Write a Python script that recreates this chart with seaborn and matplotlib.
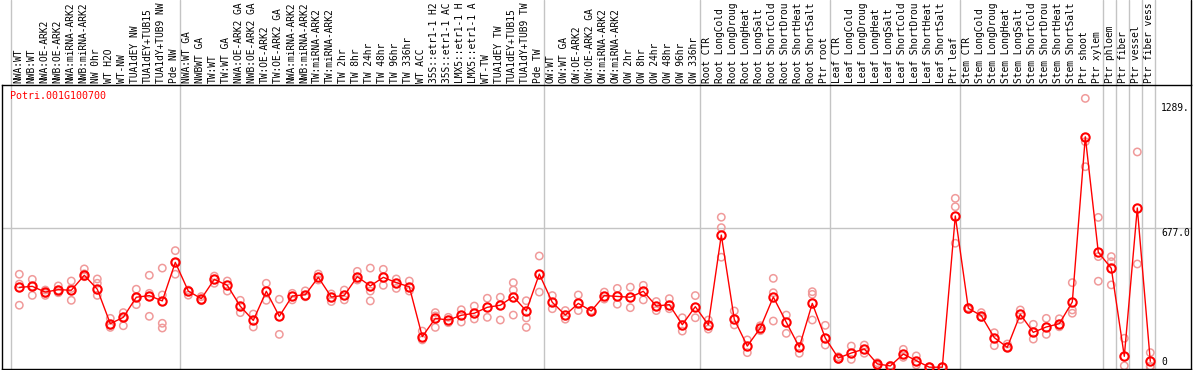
import matplotlib
matplotlib.use('Agg')
import matplotlib.pyplot as plt
import seaborn as sns
import pandas as pd
from matplotlib.transforms import blended_transform_factory

gene = "Potri.001G100700"

categories = [
    "NWA:WT", "NWB:WT", "NWA:OE-ARK2", "NWB:OE-ARK2", "NWA:miRNA-ARK2", "NWB:miRNA-ARK2",
    "NW 0hr", "WT H2O", "WT-NW", "TUA1dEY NW", "TUA1dEY+TUB15", "TUA1dY+TUB9 NW", "Pde NW",
    "NWA:WT GA", "NWBWT GA", "TW:WT", "TW:WT GA", "NWA:OE-ARK2 GA", "NWB:OE-ARK2 GA",
    "TW:OE-ARK2", "TW:OE-ARK2 GA", "NWA:miRNA-ARK2", "NWB:miRNA-ARK2", "TW:miRNA-ARK2",
    "TW:miRNA-ARK2", "TW 2hr", "TW 8hr", "TW 24hr", "TW 48hr", "TW 96hr", "TW 336hr",
    "WT ACC", "35S::etr1-1 H2", "35S::etr1-1 AC", "LMX5::etr1-1 H", "LMX5::etr1-1 A",
    "WT-TW", "TUA1dEY TW", "TUA1dEY+TUB15", "TUA1dY+TUB9 TW", "Pde TW",
    "OW:WT", "OW:WT GA", "OW:OE-ARK2", "OW:OE-ARK2 GA", "OW:miRNA-ARK2", "OW:miRNA-ARK2",
    "OW 2hr", "OW 8hr", "OW 24hr", "OW 48hr", "OW 96hr", "OW 336hr",
    "Root CTR", "Root LongCold", "Root LongDroug", "Root LongHeat", "Root LongSalt",
    "Root ShortCold", "Root ShortDrou", "Root ShortHeat", "Root ShortSalt", "Ptr root",
    "Leaf CTR", "Leaf LongCold", "Leaf LongDroug", "Leaf LongHeat", "Leaf LongSalt",
    "Leaf ShortCold", "Leaf ShortDrou", "Leaf ShortHeat", "Leaf ShortSalt", "Ptr leaf",
    "Stem CTR", "Stem LongCold", "Stem LongDroug", "Stem LongHeat", "Stem LongSalt",
    "Stem ShortCold", "Stem ShortDrou", "Stem ShortHeat", "Stem ShortSalt", "Ptr shoot",
    "Ptr xylem", "Ptr phloem", "Ptr fiber", "Ptr vessel", "Ptr fiber vess",
]

means = [
    389, 394, 366, 378, 375, 448, 380, 212, 243, 341, 349, 323, 511,
    371, 334, 428, 399, 297, 228, 370, 248, 347, 353, 438, 342, 350, 441, 396, 438,
    412, 392, 149, 238, 230, 253, 263, 292, 302, 344, 274, 454,
    316, 254, 311, 274, 349, 345, 341, 370, 298, 305, 207, 295,
    207, 644, 233, 103, 191, 342, 219, 98, 311, 142,
    45, 69, 89, 16, 6, 64, 32, 0, 0, 737,
    287, 251, 144, 97, 258, 170, 196, 212, 318, 1123, 560,
    482, 53, 776, 29,
]

replicates = [
    [453, 405, 302], [428, 394, 350], [376, 360, 350], [396, 375, 363], [420, 384, 326],
    [479, 441, 455], [430, 409, 350], [238, 194, 205], [266, 243, 202], [380, 305, 340],
    [448, 360, 248], [483, 352, 214, 191], [568, 511, 453],
    [376, 351], [344, 324], [444, 409], [420, 371], [326, 266], [259, 196], [409, 326],
    [331, 160], [360, 328], [372, 343], [454, 425], [357, 320], [376, 328], [467, 425],
    [483, 371, 323], [477, 399], [430, 384], [420, 371], [176, 133], [266, 194, 250],
    [243, 217], [280, 220], [298, 235], [336, 243], [341, 230], [412, 376, 254],
    [324, 240, 194], [542, 366],
    [349, 285], [276, 234], [352, 276], [276, 270], [366, 332], [384, 307], [390, 290],
    [399, 328], [320, 276], [334, 285], [241, 176], [349, 241],
    [230, 186], [731, 680, 536], [274, 206], [133, 71], [202, 178], [433, 363, 225],
    [254, 165], [133, 68], [368, 355, 230], [204, 108],
    [51, 38], [103, 38], [108, 68], [22, 9], [9, 3], [87, 48], [55, 11], [2, 0], [2, 0],
    [823, 782, 604],
    [290, 282], [266, 243], [168, 105], [113, 97], [279, 233], [209, 137], [238, 160],
    [236, 197], [412, 279, 263], [1310, 1099, 977], [730, 539, 419],
    [539, 514, 401], [141, 7], [1049, 503], [71, 5, 2],
]

group_ends = [0, 13, 41, 53, 63, 73, 84, 85, 86, 87, 88]
tick_values = [0, 677.0, 1289.0]
tick_labels = ["0", "677.0", "1289."]

# ---------------------------------------------------------------
sns.set_style('white')
plt.rcParams['font.family'] = ['DejaVu Sans Mono']

W, H = 1194, 370
fig = plt.figure(figsize=(W / 100, H / 100), dpi=100)
L, R, T, B = 2, 1191, 85, 369
ax = fig.add_axes([L / W, 1 - B / H, (R - L) / W, (B - T) / H])

x0, dx = 19.3, 13.0
ax.set_xlim((L - x0) / dx, (R - x0) / dx)
y0, dy = 367.2, 0.2052
ax.set_ylim((y0 - B) / dy, (y0 - T) / dy)

mean_df = pd.DataFrame({"pos": range(len(categories)), "value": means, "cat": categories})
rows = []
for i, reps in enumerate(replicates):
    for v in reps:
        rows.append({"pos": i, "value": v})
rep_df = pd.DataFrame(rows)

grid_c = '#C4C4C4'
ax.axhline(677.0, color=grid_c, lw=1, zorder=0)
top_ext = 1 + T / (B - T)
bt = blended_transform_factory(ax.transData, ax.transAxes)
for k in group_ends:
    ax.plot([k - 0.66, k - 0.66], [0, top_ext], color=grid_c, lw=1,
            transform=bt, clip_on=False, zorder=0)
ax.plot([1, 1], [1, top_ext], color='black', lw=1, transform=ax.transAxes, clip_on=False)

sns.scatterplot(data=rep_df, x="pos", y="value", marker='o', s=28,
                facecolor='none', edgecolor='#F09A9A', linewidth=1.1, ax=ax, zorder=2,
                legend=False)
sns.lineplot(data=mean_df, x="pos", y="value", color='red', lw=1, marker='o',
             markersize=6, markerfacecolor='none', markeredgecolor='red',
             markeredgewidth=1.5, estimator=None, ax=ax, zorder=3, legend=False)

for i, c in enumerate(categories):
    ax.text(i - 0.1, 1 + 2 / (B - T), c, rotation=90, ha='center', va='bottom',
            fontsize=6.9, transform=bt, clip_on=False, color='black')

bt2 = blended_transform_factory(ax.transAxes, ax.transData)
xt = (1161 - L) / (R - L)
for v, lab in zip(tick_values, tick_labels):
    ax.text(xt, v, lab, fontsize=6.9, va='bottom' if v == 0 else 'top', ha='left',
            transform=bt2, color='black')

ax.text((10 - L) / (R - L), 1 - 6 / (B - T), gene, color='red', fontsize=7.2,
        va='top', ha='left', transform=ax.transAxes)

ax.set_xticks([])
ax.set_yticks([])
ax.set_xlabel('')
ax.set_ylabel('')
for s in ax.spines.values():
    s.set_color('black')
    s.set_linewidth(1.0)
    s.set_visible(True)

fig.savefig('out.png', dpi=100)
